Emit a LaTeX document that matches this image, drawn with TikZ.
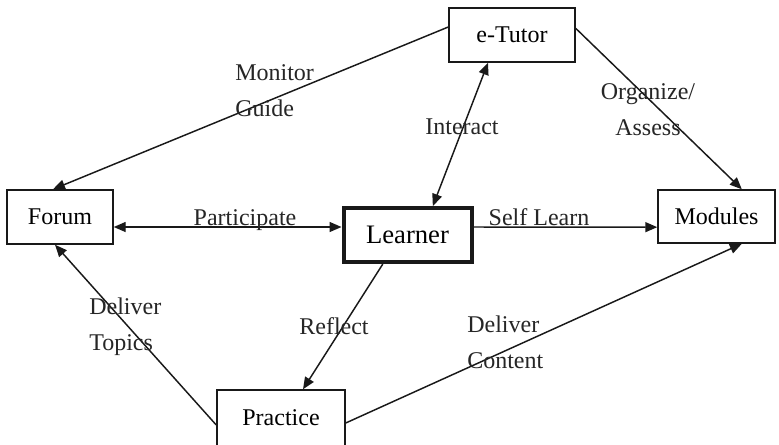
\documentclass[tikz,border=0pt]{standalone}
\usepackage{fontspec}
\setmainfont{Liberation Serif}
\usetikzlibrary{arrows.meta}
\begin{document}
\begin{tikzpicture}[x=0.75pt,y=-0.75pt,
  box/.style={draw=black!90, line width=1.1pt, fill=white, inner sep=0pt,
    font=\fontsize{18pt}{27pt}\selectfont},
  mainbox/.style={draw=black!90, line width=3pt, fill=white, inner sep=0pt,
    font=\fontsize{20pt}{27pt}\selectfont},
  lbl/.style={inner sep=0pt, font=\fontsize{18pt}{27pt}\selectfont, text=black!85},
  conn/.style={line width=1.1pt, draw=black!90, -{Triangle[length=9pt,width=7.5pt]}},
  bconn/.style={line width=1.1pt, draw=black!90, {Triangle[length=9pt,width=7.5pt]}-{Triangle[length=9pt,width=7.5pt]}}
]
\useasboundingbox (0,0) rectangle (779,444);
\fill[white] (0,0) rectangle (779,444);

\node[box, minimum width=94.5pt, minimum height=40.5pt] (etutor) at (512,35) {e-Tutor};
\node[box, minimum width=79.5pt, minimum height=40.5pt] (forum) at (60,217) {Forum};
\node[mainbox, minimum width=96pt, minimum height=40.5pt] (learner) at (407.5,235) {Learner};
\node[box, minimum width=87.75pt, minimum height=39.75pt] (modules) at (716.5,216.5) {Modules};
\node[box, minimum width=96pt, minimum height=42pt] (practice) at (281,418) {Practice};

\draw[conn] ([yshift=6pt]etutor.west) -- ([xshift=-5.25pt]forum.north);
\draw[bconn] ([xshift=-18pt]etutor.south) -- ([xshift=19pt]learner.north);
\draw[conn] ([yshift=5pt]etutor.east) -- ([xshift=19pt]modules.north);
\draw[bconn] ([yshift=-7.5pt]forum.east) -- ([yshift=6pt]learner.west);
\draw[conn] ([yshift=6pt]learner.east) -- ([yshift=-8pt]modules.west);
\draw[conn] ([xshift=-18.5pt]learner.south) -- ([xshift=16.5pt]practice.north);
\draw[conn] ([yshift=-5.25pt]practice.west) -- ([xshift=-3.75pt]forum.south);
\draw[conn] ([yshift=-3.75pt]practice.east) -- ([xshift=19pt]modules.south);

\node[lbl, anchor=north west, align=left] (lmon) at (235,64) {Monitor\\Guide};
\node[lbl] (linter) at (462,127) {Interact};
\node[lbl, align=center] (lorg) at (648,110) {Organize/\\Assess};
\node[lbl, anchor=base] (lpart) at (245,225) {Participate};
\node[lbl, anchor=base] (lself) at (539,225) {Self Learn};
\node[lbl] (lrefl) at (334,326) {Reflect};
\node[lbl, anchor=north west, align=left] (ltop) at (89,298) {Deliver\\Topics};
\node[lbl, anchor=north west, align=left] (lcont) at (467,316) {Deliver\\Content};
\end{tikzpicture}
\end{document}
